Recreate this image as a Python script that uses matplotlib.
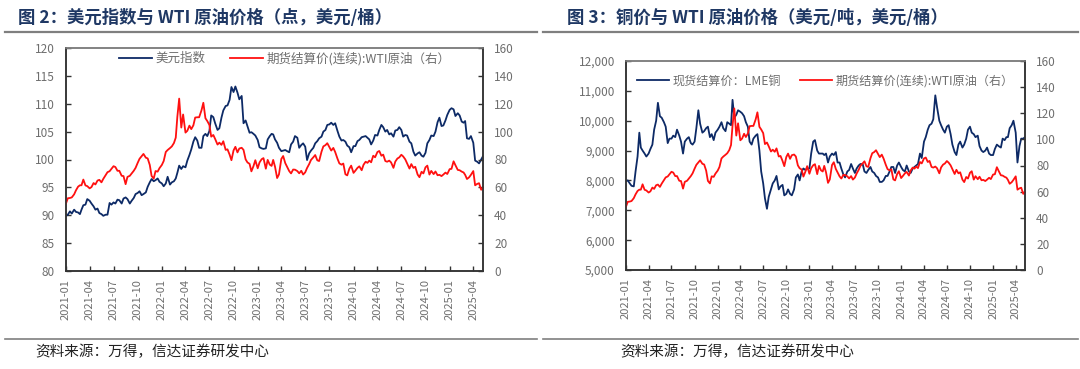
import matplotlib
matplotlib.use("Agg")
import matplotlib.pyplot as plt
import matplotlib.dates as mdates
from matplotlib.lines import Line2D
from matplotlib.ticker import MultipleLocator, StrMethodFormatter
import pandas as pd

plt.rcParams["font.family"] = ["Noto Sans CJK SC", "DejaVu Sans"]

# weekly-ish readings, 4 per month (2021-01 .. 2025-05)
DXY = [
    # 2021
    89.9, 90.1, 90.7, 90.3, 91.0, 90.6, 90.5, 90.2, 91.0, 91.8, 91.9, 92.9,
    92.6, 92.1, 91.6, 91.0, 91.2, 90.4, 90.2, 89.9, 90.1, 90.1, 92.2, 91.9,
    92.3, 92.1, 92.8, 92.7, 92.1, 93.0, 93.2, 92.9, 92.1, 92.6, 93.1, 93.8,
    94.0, 94.3, 93.6, 93.8, 94.1, 95.1, 95.9, 96.5, 96.1, 96.3, 96.6, 96.0,
    # 2022
    95.7, 95.2, 95.7, 96.9, 95.5, 95.9, 96.1, 96.6, 97.6, 98.9, 98.3, 98.8,
    98.6, 99.8, 100.8, 101.8, 103.2, 104.0, 103.4, 102.1, 102.1, 104.2, 104.6, 104.2,
    105.1, 107.9, 107.6, 106.5, 105.3, 105.6, 107.5, 108.8, 109.6, 109.7, 110.7, 113.0,
    112.1, 113.1, 112.0, 110.8, 111.4, 106.5, 107.0, 106.0, 104.8, 104.9, 104.6, 104.3,
    # 2023
    103.5, 102.2, 102.0, 101.9, 102.0, 103.6, 104.2, 104.6, 104.5, 103.6, 103.0, 102.1,
    101.5, 101.6, 101.7, 101.5, 101.3, 102.7, 103.2, 104.2, 103.9, 102.1, 102.6, 102.9,
    102.3, 99.9, 101.1, 101.6, 102.1, 102.9, 103.3, 103.8, 104.1, 105.0, 105.3, 106.2,
    106.3, 106.6, 106.2, 106.5, 105.1, 104.1, 103.4, 103.5, 103.2, 102.5, 102.2, 101.3,
    # 2024
    102.4, 102.4, 103.3, 103.5, 104.0, 104.1, 104.2, 103.9, 103.6, 102.7, 103.4, 104.4,
    104.3, 105.3, 106.2, 105.8, 105.0, 105.3, 104.5, 104.7, 104.1, 105.2, 105.3, 105.8,
    105.3, 104.1, 104.4, 104.3, 103.2, 102.9, 101.4, 100.7, 101.1, 101.3, 100.7, 100.5,
    101.2, 102.9, 103.5, 104.3, 104.2, 105.0, 106.7, 107.5, 106.0, 106.1, 107.0, 108.0,
    # 2025
    108.9, 109.2, 109.0, 107.8, 108.3, 107.9, 106.8, 106.6, 106.9, 103.8, 103.7, 104.2,
    103.0, 99.8, 99.6, 99.3, 100.0, 100.6,
]

WTI = [
    # 2021
    48.5, 52.2, 52.4, 52.8, 55.0, 57.9, 60.5, 61.5, 61.5, 65.6, 61.4, 60.9,
    59.3, 60.2, 63.1, 62.1, 64.9, 65.4, 63.6, 66.1, 68.8, 70.9, 71.6, 73.3,
    75.2, 74.6, 71.9, 71.9, 68.3, 68.1, 62.3, 67.5, 68.3, 70.0, 71.9, 74.0,
    77.6, 80.5, 82.4, 84.0, 81.3, 80.8, 76.1, 68.2, 66.3, 71.7, 71.3, 73.8,
    # 2022
    76.1, 78.9, 85.4, 86.8, 88.2, 89.4, 91.8, 95.7, 110.6, 123.7, 102.9, 112.3,
    99.3, 100.6, 104.3, 101.8, 104.5, 110.1, 110.3, 110.3, 115.3, 120.7, 109.6, 107.6,
    104.8, 96.4, 97.6, 94.7, 90.7, 92.1, 90.5, 93.1, 86.9, 87.3, 83.5, 79.5,
    86.5, 89.1, 85.1, 87.9, 88.4, 86.9, 80.1, 77.9, 76.9, 71.5, 75.3, 79.5,
    # 2023
    73.7, 77.9, 80.2, 81.0, 73.4, 79.7, 76.3, 75.4, 79.7, 74.8, 66.7, 69.3,
    80.4, 82.5, 77.4, 74.8, 71.7, 70.0, 72.8, 72.7, 71.7, 70.1, 71.9, 69.2,
    70.8, 73.9, 76.7, 79.7, 81.6, 83.2, 79.4, 78.9, 85.6, 89.4, 90.3, 91.7,
    88.8, 86.4, 88.3, 85.4, 80.5, 77.2, 76.3, 77.1, 69.4, 68.6, 73.4, 75.6,
    # 2024
    70.4, 72.0, 74.0, 75.1, 72.3, 76.2, 78.4, 77.6, 79.2, 78.0, 82.7, 81.6,
    85.4, 86.1, 82.7, 83.5, 78.9, 78.4, 79.2, 77.9, 74.0, 78.5, 80.7, 81.5,
    83.4, 82.2, 80.1, 77.2, 73.5, 76.7, 74.0, 74.8, 69.2, 67.3, 71.2, 70.0,
    74.4, 75.6, 69.2, 71.8, 69.5, 71.4, 68.7, 69.0, 68.1, 69.2, 70.6, 69.6,
    # 2025
    73.1, 73.3, 78.7, 75.9, 72.5, 72.3, 71.3, 70.7, 69.0, 66.0, 67.2, 69.0,
    71.7, 61.5, 62.5, 63.0, 58.3, 59.9,
]

LME_CU = [
    # 2021
    7980, 8000, 7900, 7820, 7800, 8300, 8800, 9600, 9100, 9000, 8900, 8800,
    8900, 9050, 9200, 9700, 10000, 10600, 10150, 10100, 9950, 9800, 9250, 9400,
    9400, 9500, 9450, 9700, 9500, 9300, 8900, 9300, 9400, 9450, 9250, 9200,
    9300, 9750, 10350, 9900, 9600, 9650, 9750, 9800, 9450, 9550, 9350, 9600,
    # 2022
    9700, 9800, 9950, 9750, 9650, 9950, 9900, 9850, 10700, 10100, 10200, 10350,
    10300, 10250, 10150, 9950, 9800, 9300, 9200, 9400, 9500, 9550, 9000, 8300,
    7900, 7400, 7050, 7450, 7700, 7900, 8000, 8150, 7700, 7800, 7850, 7500,
    7550, 7700, 7550, 7500, 7700, 8100, 8200, 8000, 8300, 8400, 8350, 8400,
    # 2023
    8400, 8900, 9300, 9350, 9000, 8900, 8900, 8900, 8850, 8900, 8600, 8800,
    8900, 8850, 8950, 8600, 8600, 8400, 8200, 8100, 8300, 8350, 8550, 8400,
    8250, 8400, 8500, 8550, 8550, 8300, 8250, 8350, 8450, 8300, 8250, 8150,
    8100, 7950, 7950, 8000, 8150, 8150, 8300, 8450, 8450, 8250, 8500, 8600,
    # 2024
    8450, 8350, 8300, 8500, 8300, 8250, 8400, 8450, 8500, 8550, 8900, 8750,
    9300, 9450, 9700, 9850, 9900, 10050, 10850, 10450, 10000, 9850, 9700, 9600,
    9800, 9850, 9550, 9200, 8950, 8850, 9200, 9300, 9100, 9200, 9400, 9700,
    9800, 9600, 9550, 9450, 9500, 9150, 9000, 8950, 9000, 9100, 8900, 8850,
    # 2025
    8850, 9050, 9200, 9150, 9100, 9400, 9350, 9450, 9450, 9750, 9850, 10000,
    9600, 8600, 9150, 9400, 9400, 9450,
]

LABEL_DXY = "美元指数"
LABEL_WTI = "期货结算价(连续):WTI原油（右）"
LABEL_CU = "现货结算价：LME铜"
TITLE_L = "图 2：美元指数与 WTI 原油价格（点，美元/桶）"
TITLE_R = "图 3：铜价与 WTI 原油价格（美元/吨，美元/桶）"
SOURCE = "资料来源：万得，信达证券研发中心"

NAVY = "#0D2A66"
RED = "#FF1010"
GREY_TXT = "#6E6E6E"
TITLE_C = "#1F3864"
SPINE_C = "#333333"


def week_dates(n):
    days = [1, 8, 16, 23]
    out = []
    for i in range(n):
        m = i // 4
        out.append(pd.Timestamp(2021 + m // 12, m % 12 + 1, days[i % 4]))
    return pd.DatetimeIndex(out)


dates = week_dates(len(DXY))


def style_axes(ax, ax2):
    for a in (ax, ax2):
        for s in a.spines.values():
            s.set_color(SPINE_C)
            s.set_linewidth(1.1)
        a.tick_params(direction="in", length=3.5, width=1, colors=SPINE_C,
                      labelcolor=GREY_TXT, labelsize=8.5)
    ax.spines["top"].set_color("#7F7F7F")
    ax2.spines["top"].set_color("#7F7F7F")
    ax.tick_params(axis="y", pad=8)
    ax2.tick_params(axis="y", pad=8)
    ax.xaxis.set_major_locator(mdates.MonthLocator(bymonth=[1, 4, 7, 10]))
    ax.xaxis.set_major_formatter(mdates.DateFormatter("%Y-%m"))
    ax.tick_params(axis="x", labelrotation=90, labelsize=8, pad=6)
    ax.set_xlim(dates[0], dates[-1])


fig = plt.figure(figsize=(10.8, 3.69), dpi=100)

# left panel
axL = fig.add_axes([66 / 1080, 1 - 271 / 369, 417 / 1080, 223 / 369])
axL2 = axL.twinx()
h1, = axL.plot(dates, DXY, color=NAVY, lw=1.3, label=LABEL_DXY)
h2, = axL2.plot(dates, WTI, color=RED, lw=1.3, label=LABEL_WTI)
axL.set_ylim(80, 120)
axL.yaxis.set_major_locator(MultipleLocator(5))
axL2.set_ylim(0, 160)
axL2.yaxis.set_major_locator(MultipleLocator(20))
style_axes(axL, axL2)
axL2.legend([h1, h2], [LABEL_DXY, LABEL_WTI], loc="center", ncol=2,
            bbox_to_anchor=(0.525, 0.953), frameon=False, fontsize=9,
            handlelength=2.6, columnspacing=2.0, labelcolor=GREY_TXT,
            handletextpad=0.3)

# right panel
axR = fig.add_axes([626 / 1080, 1 - 270 / 369, 399 / 1080, 209 / 369])
axR2 = axR.twinx()
g1, = axR.plot(dates, LME_CU, color=NAVY, lw=1.3, label=LABEL_CU)
g2, = axR2.plot(dates, WTI, color=RED, lw=1.3, label=LABEL_WTI)
axR.set_ylim(5000, 12000)
axR.yaxis.set_major_locator(MultipleLocator(1000))
axR.yaxis.set_major_formatter(StrMethodFormatter("{x:,.0f}"))
axR2.set_ylim(0, 160)
axR2.yaxis.set_major_locator(MultipleLocator(20))
style_axes(axR, axR2)
axR2.legend([g1, g2], [LABEL_CU, LABEL_WTI], loc="center", ncol=2,
            bbox_to_anchor=(0.5, 0.905), frameon=False, fontsize=8.7,
            handlelength=2.6, columnspacing=1.6, labelcolor=GREY_TXT,
            handletextpad=0.3)

# titles, rules, source notes
fig.text(18 / 1080, 1 - 18 / 369, TITLE_L, fontsize=12.5, fontweight="bold",
         color=TITLE_C, va="center", ha="left")
fig.text(567 / 1080, 1 - 18 / 369, TITLE_R, fontsize=12.5, fontweight="bold",
         color=TITLE_C, va="center", ha="left")
for x0, x1 in [(5, 537), (543, 1078)]:
    fig.add_artist(Line2D([x0 / 1080, x1 / 1080], [1 - 32 / 369] * 2,
                          color="#7F7F7F", lw=1.6))
    fig.add_artist(Line2D([x0 / 1080, x1 / 1080], [1 - 339 / 369] * 2,
                          color="#7F7F7F", lw=1.2))
fig.text(35 / 1080, 1 - 352 / 369, SOURCE, fontsize=10.5, color="#222222",
         va="center", ha="left")
fig.text(620 / 1080, 1 - 352 / 369, SOURCE, fontsize=10.5, color="#222222",
         va="center", ha="left")

fig.savefig("out.png", dpi=100)
